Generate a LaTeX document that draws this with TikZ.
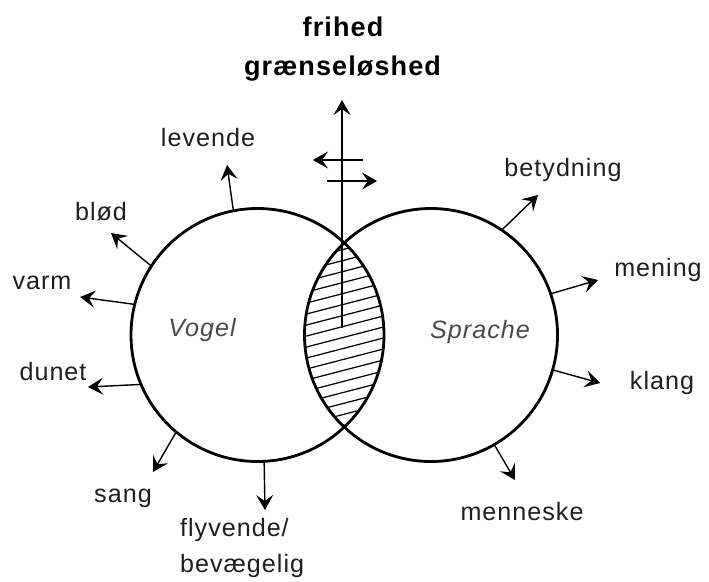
\documentclass[tikz,border=0pt]{standalone}
\usepackage{fontspec}
\setmainfont{Liberation Sans}
\newfontfamily\lblfont[LetterSpace=4]{Liberation Sans}
\usepackage{tikz}
\usetikzlibrary{positioning,arrows.meta}
\definecolor{inkCol}{HTML}{000000}
\definecolor{textCol}{HTML}{1E1E1E}
\definecolor{setCol}{HTML}{4A4A4A}

\begin{document}
\begin{tikzpicture}[
  font=\lblfont\fontsize{14.3}{20}\selectfont,
  ring/.style={circle, draw=inkCol, line width=1.6pt, minimum size=5.06cm,
               inner sep=0pt, outer sep=0pt},
  ray/.style={-{Stealth[length=3mm,width=3.4mm,inset=1.2mm]}, line width=0.8pt, draw=inkCol},
  word/.style={inner sep=1pt, text=textCol},
  head/.style={font=\lblfont\bfseries\fontsize{15.4}{18}\selectfont, inner sep=1pt},
  setname/.style={font=\lblfont\itshape\fontsize{14.3}{16}\selectfont, text=setCol},
  hatch/.style={line width=0.7pt, draw=inkCol},
]
\useasboundingbox (0,0) rectangle (14.18,11.62);

% ---- Fællesmængde (skraveret) ----
\begin{scope}
  \clip (5.15,4.92) circle (2.53);
  \clip (8.62,4.92) circle (2.53);
  \foreach \k in {0,...,22}
    \draw[hatch] (5.9,2.2+\k*0.22) -- ++(2.0,0.52);
\end{scope}

% ---- De to cirkler ----
\node[ring] (vogel)   at (5.15,4.92) {};
\node[ring] (sprache) at (8.62,4.92) {};
\node[setname] (vname) at (4.04,5.02) {Vogel};
\node[setname] (sname) at (9.60,4.98) {Sprache};

% ---- Overskrift og pile i midten ----
\node[head] (fri)  at (6.86,11.08) {frihed};
\node[head] (graen) at (6.85,10.24) {grænseløshed};
\coordinate (core) at (6.84,5.06);
\coordinate (peak) at (6.84,9.62);
\draw[ray] (core) -- (peak);
\coordinate (wl1) at (7.26,8.42);
\coordinate (wl2) at (6.26,8.42);
\coordinate (wr1) at (6.54,8.00);
\coordinate (wr2) at (7.54,8.00);
\draw[ray] (wl1) -- (wl2);
\draw[ray] (wr1) -- (wr2);

% ---- Egenskaber ved Vogel ----
\node[word] (lev)  at (4.16,8.86) {levende};
\node[word] (blod) at (2.02,7.38) {blød};
\node[word] (varm) at (0.84,5.96) {varm};
\node[word] (dun)  at (1.06,4.18) {dunet};
\node[word] (sang) at (2.46,1.66) {sang};
\node[word, anchor=west, align=left] (fly) at (3.56,0.66) {flyvende/\\bevægelig};

\coordinate (levT)  at (4.54,8.32);
\coordinate (blodT) at (2.22,6.96);
\coordinate (varmT) at (1.60,5.68);
\coordinate (dunT)  at (1.76,3.88);
\coordinate (sangT) at (3.06,2.18);
\coordinate (flyT)  at (5.30,1.42);

\draw[ray] (vogel.101) -- (levT);
\draw[ray] (vogel.147) -- (blodT);
\draw[ray] (vogel.166) -- (varmT);
\draw[ray] (vogel.203) -- (dunT);
\draw[ray] (vogel.230) -- (sangT);
\draw[ray] (vogel.273) -- (flyT);

% ---- Egenskaber ved Sprache ----
\node[word] (bet)  at (11.26,8.22) {betydning};
\node[word] (men)  at (13.16,6.22) {mening};
\node[word] (klg)  at (13.24,3.96) {klang};
\node[word] (mns)  at (10.44,1.38) {menneske};

\coordinate (betT) at (10.76,7.72);
\coordinate (menT) at (11.96,6.02);
\coordinate (klgT) at (12.00,3.96);
\coordinate (mnsT) at (10.30,2.02);

\draw[ray] (sprache.56)  -- (betT);
\draw[ray] (sprache.19)  -- (menT);
\draw[ray] (sprache.-16) -- (klgT);
\draw[ray] (sprache.-60) -- (mnsT);

\end{tikzpicture}
\end{document}
